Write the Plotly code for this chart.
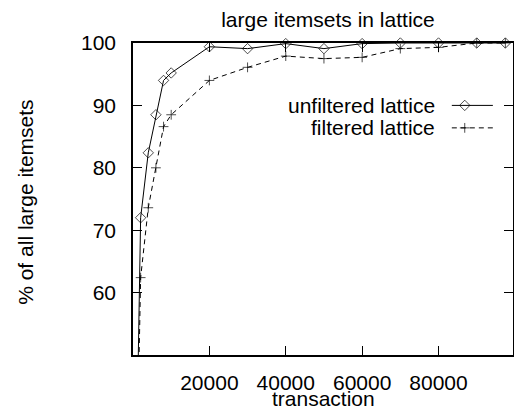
import plotly.graph_objects as go

# ---- data ----
transactions = [0, 2000, 4000, 6000, 8000, 10000, 20000, 30000, 40000,
                50000, 60000, 70000, 80000, 90000, 97500]
unfiltered = [0, 72.0, 82.4, 88.5, 94.0, 95.2, 99.4, 99.1, 99.9,
              99.1, 99.9, 100.0, 100.0, 100.0, 100.0]
filtered = [0, 62.4, 73.6, 80.0, 86.6, 88.5, 94.0, 96.1, 97.9,
            97.5, 97.7, 99.1, 99.3, 100.0, 100.0]
series_names = ["unfiltered lattice", "filtered lattice"]
x_ticks = [20000, 40000, 60000, 80000]
y_ticks = [60, 70, 80, 90, 100]
title_text = "large itemsets in lattice"
x_title = "transaction"
y_title = "% of all large itemsets"

Y_MIN, Y_MAX = 50, 100
X_MIN, X_MAX = 0, 99500
FONT = "Liberation Sans, Arial, Helvetica, sans-serif"
FS = 21


def sizes(vals, s):
    return [s if Y_MIN <= v <= Y_MAX else 0 for v in vals]


fig = go.Figure()

fig.add_trace(go.Scatter(
    x=transactions, y=unfiltered, name=series_names[0], mode="lines+markers",
    line=dict(color="black", width=1),
    marker=dict(symbol="diamond-open", size=sizes(unfiltered, 8), color="black",
                line=dict(width=1, color="black")),
    cliponaxis=False, showlegend=False))

fig.add_trace(go.Scatter(
    x=transactions, y=filtered, name=series_names[1], mode="lines+markers",
    line=dict(color="black", width=1, dash="5px,4px"),
    marker=dict(symbol="cross-thin-open", size=sizes(filtered, 7), color="black",
                line=dict(width=1, color="black")),
    cliponaxis=False, showlegend=False))

# ---- legend keys (gnuplot style: text on left, sample on right) ----
key_x = [0.839, 0.873, 0.947]
key_rows = [0.800, 0.728]
fig.add_trace(go.Scatter(
    x=key_x, y=[key_rows[0]] * 3, xaxis="x2", yaxis="y2", mode="lines+markers",
    line=dict(color="black", width=1),
    marker=dict(symbol="diamond-open", size=[0, 8, 0], color="black",
                line=dict(width=1, color="black")),
    showlegend=False, hoverinfo="skip"))
fig.add_trace(go.Scatter(
    x=key_x, y=[key_rows[1]] * 3, xaxis="x2", yaxis="y2", mode="lines+markers",
    line=dict(color="black", width=1, dash="5px,4px"),
    marker=dict(symbol="cross-thin-open", size=[0, 7, 0], color="black",
                line=dict(width=1, color="black")),
    showlegend=False, hoverinfo="skip"))

annotations = []
for name, ry in zip(series_names, key_rows):
    annotations.append(dict(text=name, xref="paper", yref="paper", x=0.800, y=ry,
                            xanchor="right", yanchor="middle", showarrow=False,
                            font=dict(family=FONT, size=FS, color="black")))
annotations.append(dict(text=x_title, xref="paper", yref="paper", x=0.5, y=-0.138,
                        xanchor="center", yanchor="middle", showarrow=False,
                        font=dict(family=FONT, size=FS, color="black")))
annotations.append(dict(text=y_title, xref="paper", yref="paper", x=-0.285, y=0.49,
                        xanchor="center", yanchor="middle", showarrow=False,
                        textangle=-90,
                        font=dict(family=FONT, size=FS, color="black")))

axis_common = dict(showgrid=False, zeroline=False, showline=True, linecolor="black",
                   linewidth=1.5, mirror="ticks", ticks="inside", ticklen=9,
                   tickwidth=1, tickcolor="black", automargin=False,
                   tickformat="d",
                   tickfont=dict(family=FONT, size=FS, color="black"))

fig.update_layout(
    template="none",
    width=514, height=408,
    margin=dict(l=133, r=1, t=43, b=53, autoexpand=False),
    paper_bgcolor="white", plot_bgcolor="white",
    font=dict(family=FONT, size=FS, color="black"),
    title=dict(text=title_text, x=0.513, xref="paper", xanchor="center",
               y=1 - 20 / 408, yref="container", yanchor="middle",
               font=dict(family=FONT, size=FS, color="black")),
    xaxis=dict(range=[X_MIN, X_MAX], tickvals=x_ticks, ticklabelstandoff=8,
               **axis_common),
    yaxis=dict(range=[Y_MIN, Y_MAX], tickvals=y_ticks, ticklabelstandoff=11,
               **axis_common),
    xaxis2=dict(overlaying="x", range=[0, 1], visible=False),
    yaxis2=dict(overlaying="y", range=[0, 1], visible=False),
    annotations=annotations,
    showlegend=False,
)

fig.write_html(
    "out.html",
    config={"displayModeBar": False},
    post_script="document.body.style.margin='0';document.body.style.overflow='hidden';",
)
